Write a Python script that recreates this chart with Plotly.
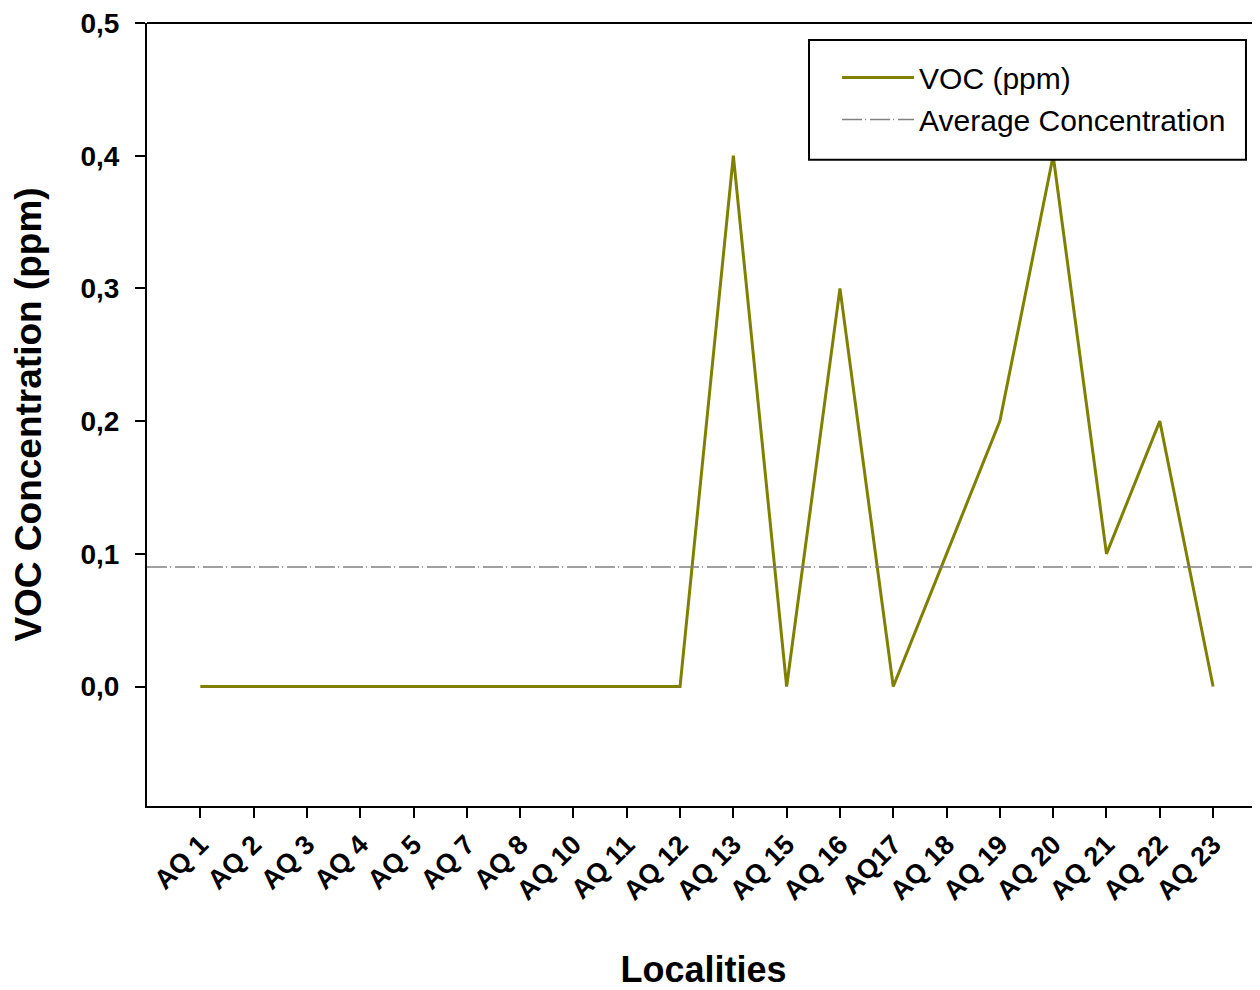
import plotly.graph_objects as go

localities = ["AQ 1", "AQ 2", "AQ 3", "AQ 4", "AQ 5", "AQ 7", "AQ 8", "AQ 10", "AQ 11", "AQ 12",
              "AQ 13", "AQ 15", "AQ 16", "AQ17", "AQ 18", "AQ 19", "AQ 20", "AQ 21", "AQ 22", "AQ 23"]
voc_ppm = [0, 0, 0, 0, 0, 0, 0, 0, 0, 0, 0.4, 0, 0.3, 0, 0.1, 0.2, 0.4, 0.1, 0.2, 0]
average_concentration = 0.09
y_ticks = [0.0, 0.1, 0.2, 0.3, 0.4, 0.5]

idx = list(range(len(localities)))

fig = go.Figure()
fig.add_trace(go.Scatter(x=idx, y=voc_ppm, mode="lines", name="VOC (ppm)",
                         line=dict(color="#808000", width=3)))
fig.add_trace(go.Scatter(x=[-1, len(localities)], y=[average_concentration] * 2, mode="lines",
                         name="Average Concentration",
                         line=dict(color="#808080", width=1.5, dash="20px,3px,1px,4px")))

fig.update_layout(
    width=1252, height=982,
    margin=dict(l=139, r=0, t=13, b=184),
    paper_bgcolor="white", plot_bgcolor="white",
    separators=",.",
    font=dict(family="Arial, Liberation Sans, sans-serif", color="black"),
    legend=dict(x=0.620, y=0.9636, xanchor="left", yanchor="top",
                borderwidth=0, bgcolor="rgba(0,0,0,0)",
                font=dict(size=30), tracegroupgap=0, itemwidth=72),
    showlegend=True,
)
fig.update_xaxes(
    range=[-1, 19.88], tickmode="array", tickvals=idx,
    ticktext=["<b>%s</b>" % t for t in localities],
    tickangle=-45, ticks="outside", ticklen=10, tickwidth=2, tickcolor="black",
    tickfont=dict(size=27), ticklabelstandoff=0,
    showline=True, linecolor="black", linewidth=2, mirror=False, showgrid=False, zeroline=False,
    title=dict(text="<b>Localities</b>", font=dict(size=36), standoff=58),
)
fig.update_yaxes(
    range=[-0.09, 0.5], tickmode="array", tickvals=y_ticks,
    ticktext=["<b>%s</b>" % f"{v:.1f}".replace(".", ",") for v in y_ticks],
    ticks="outside", ticklen=10, tickwidth=2, tickcolor="black",
    tickfont=dict(size=28), ticklabelstandoff=10, ticklabeloverflow="allow",
    showline=True, linecolor="black", linewidth=2, showgrid=False, zeroline=False,
    title=dict(text="<b>VOC Concentration (ppm)</b>", font=dict(size=37), standoff=30),
)
# top border
fig.add_shape(type="line", xref="paper", yref="paper", x0=0, x1=1, y0=1, y1=1,
              line=dict(color="black", width=2))
# legend frame
fig.add_shape(type="rect", xref="paper", yref="paper", x0=0.5948, x1=0.9874, y0=0.8255, y1=0.9783,
              line=dict(color="black", width=2), fillcolor="white", layer="above")
fig.write_html("out.html")
